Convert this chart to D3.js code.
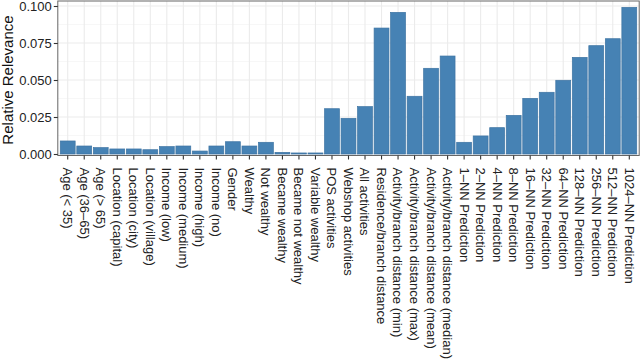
<!DOCTYPE html>
<html><head><meta charset="utf-8">
<script src="https://cdn.jsdelivr.net/npm/d3@7"></script>
<style>body{margin:0;background:#fff}svg{display:block}text{font-family:"Liberation Sans",Arial,Helvetica,sans-serif}</style>
</head><body>
<svg id="c" width="640" height="360"></svg>
<script>
const categories = ["Age (< 35)","Age (36–65)","Age (> 65)","Location (capital)","Location (city)","Location (village)",
"Income (low)","Income (medium)","Income (high)","Income (no)","Gender","Wealthy","Not wealthy","Became wealthy",
"Became not wealthy","Variable wealthy","POS activities","Webshop activities","All activities","Residence/branch distance",
"Activity/branch distance (min)","Activity/branch distance (max)","Activity/branch distance (mean)","Activity/branch distance (median)",
"1–NN Prediction","2–NN Prediction","4–NN Prediction","8–NN Prediction","16–NN Prediction","32–NN Prediction",
"64–NN Prediction","128–NN Prediction","256–NN Prediction","512–NN Prediction","1024–NN Prediction"];
const relevance = [0.0088,0.0054,0.0043,0.0034,0.0034,0.0029,0.0050,0.0054,0.0020,0.0054,0.0083,0.0054,0.0079,0.0011,
0.0007,0.0007,0.0306,0.0241,0.0320,0.0851,0.0957,0.0390,0.0579,0.0662,0.0079,0.0122,0.0178,0.0261,0.0376,0.0417,
0.0498,0.0653,0.0732,0.0779,0.0991];
const yTicks = [0, 0.025, 0.05, 0.075, 0.1];
const yMinor = [0.0125, 0.0375, 0.0625, 0.0875];
const yTitle = "Relative Relevance";

const svg = d3.select("#c");
const P = {l:57.8, r:639.2, t:1, b:155.5};
const x = d3.scaleBand().domain(categories).range([P.l, P.r]).paddingInner(0.1).paddingOuter(0.15);
const y = d3.scaleLinear().domain([0, 0.1]).range([154, 6]);

// panel bg
svg.append("rect").attr("x",P.l).attr("y",P.t).attr("width",P.r-P.l).attr("height",P.b-P.t).attr("fill","#fff");
const g = svg.append("g");
g.selectAll(".ymin").data(yMinor).join("line").attr("x1",P.l).attr("x2",P.r)
  .attr("y1",d=>y(d)).attr("y2",d=>y(d)).attr("stroke","#f2f2f2").attr("stroke-width",0.6);
g.selectAll(".ymaj").data(yTicks).join("line").attr("x1",P.l).attr("x2",P.r)
  .attr("y1",d=>y(d)).attr("y2",d=>y(d)).attr("stroke","#ebebeb").attr("stroke-width",1.1);
g.selectAll(".xmaj").data(categories).join("line").attr("y1",P.t).attr("y2",P.b)
  .attr("x1",d=>x(d)+x.bandwidth()/2).attr("x2",d=>x(d)+x.bandwidth()/2).attr("stroke","#ebebeb").attr("stroke-width",1.1);

// bars
svg.append("g").selectAll("rect").data(categories).join("rect")
  .attr("x",d=>x(d)).attr("width",x.bandwidth())
  .attr("y",(d,i)=>y(relevance[i])).attr("height",(d,i)=>y(0)-y(relevance[i]))
  .attr("fill","#4682b4").attr("stroke","#3e74a3").attr("stroke-width",0.7);

// border
svg.append("rect").attr("x",P.l).attr("y",P.t).attr("width",P.r-P.l).attr("height",P.b-P.t)
  .attr("fill","none").attr("stroke","#666").attr("stroke-width",1);

// y axis
const ya = svg.append("g").attr("transform",`translate(${P.l},0)`)
  .call(d3.axisLeft(y).tickValues(yTicks).tickFormat(d3.format(".3f")).tickSize(4).tickPadding(2));
ya.select(".domain").remove();
ya.selectAll(".tick line").attr("stroke","#333").attr("stroke-width",1.1);
ya.selectAll(".tick text").attr("font-size",13).attr("fill","#222").attr("font-family","Liberation Sans, Arial, sans-serif");

// x axis
const xa = svg.append("g").attr("transform",`translate(0,${P.b})`)
  .call(d3.axisBottom(x).tickSize(4).tickPadding(2));
xa.select(".domain").remove();
xa.selectAll(".tick line").attr("stroke","#333").attr("stroke-width",1.1);
xa.selectAll(".tick text").attr("font-size",13).attr("fill","#222").attr("font-family","Liberation Sans, Arial, sans-serif")
  .attr("transform","rotate(90)").attr("text-anchor","start").attr("x",12).attr("y",0).attr("dy","0.35em");

// y title
svg.append("text").attr("transform","translate(13,80) rotate(-90)").attr("text-anchor","middle")
  .attr("font-size",15).attr("fill","#111").text(yTitle);
</script>
</body></html>
